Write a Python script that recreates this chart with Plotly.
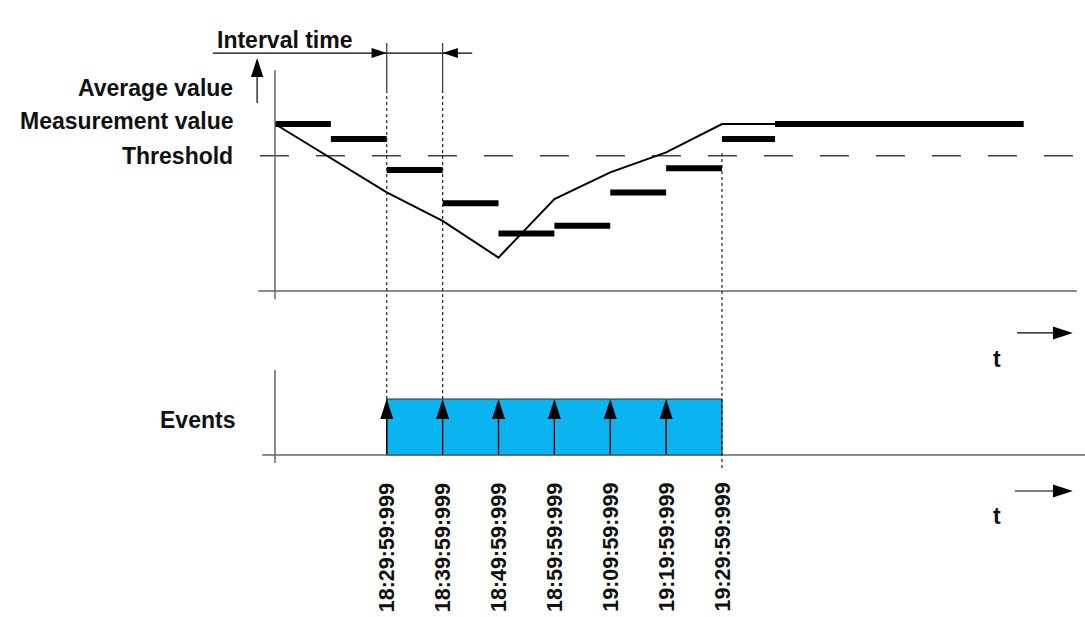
import plotly.graph_objects as go

# x unit: minutes after 18:09:59.999 (origin of both time axes)
meas_x = [0, 20, 30, 40, 50, 60, 70, 80, 89.5]
meas_y = [100, 59, 42, 20, 55, 71, 83, 100, 100]

avg_start = [0, 10, 20, 30, 40, 50, 60, 70, 80, 89.5]
avg_end = [10, 20, 30, 40, 50, 60, 70, 80, 89.5, 134]
avg_value = [100, 91, 72.5, 52.5, 34.5, 39, 59, 73.5, 91, 100]

threshold = 81

event_window = [20, 80]
event_x = [20, 30, 40, 50, 60, 70]
tick_x = [20, 30, 40, 50, 60, 70, 80]
tick_labels = ["18:29:59:999", "18:39:59:999", "18:49:59:999", "18:59:59:999",
               "19:09:59:999", "19:19:59:999", "19:29:59:999"]

W, H = 1085, 617
FONT = "Liberation Sans, Arial, sans-serif"
AXIS = "#666666"


def px(p):
    return p / W


def py(p):
    return 1 - p / H


fig = go.Figure()

# threshold
fig.add_trace(go.Scatter(x=[-2.7, 145], y=[threshold, threshold], mode="lines",
                         line=dict(color="#444444", width=1.3, dash="29px,27px"),
                         hoverinfo="skip"))

# measurement value
fig.add_trace(go.Scatter(x=meas_x, y=meas_y, mode="lines",
                         line=dict(color="black", width=2), hoverinfo="skip"))

# average value bars
bx, by = [], []
for a, b, v in zip(avg_start, avg_end, avg_value):
    bx += [a, b, None]
    by += [v, v, None]
fig.add_trace(go.Scatter(x=bx, y=by, mode="lines",
                         line=dict(color="black", width=6), hoverinfo="skip"))

# event arrows (lower panel, y2)
sx, sy = [], []
for x in event_x:
    sx += [x, x, None]
    sy += [0, 0.65, None]
fig.add_trace(go.Scatter(x=sx, y=sy, yaxis="y2", mode="lines",
                         line=dict(color="black", width=1.3), hoverinfo="skip"))
fig.add_trace(go.Scatter(x=event_x, y=[1] * len(event_x), yaxis="y2", mode="markers",
                         marker=dict(symbol="arrow", angle=0, size=21, color="black",
                                     line=dict(width=0)),
                         hoverinfo="skip"))

# interval time arrow
fig.add_trace(go.Scatter(x=[-11.1, 35.3], y=[142.5, 142.5], mode="lines",
                         line=dict(color="black", width=1.2), hoverinfo="skip"))
fig.add_trace(go.Scatter(x=[event_x[0], event_x[1]], y=[142.5, 142.5], mode="markers",
                         marker=dict(symbol="arrow", angle=[90, -90], size=16, color="black",
                                     line=dict(width=0)),
                         hoverinfo="skip"))

# value-axis arrow
fig.add_trace(go.Scatter(x=[-3.2, -3.2], y=[112.6, 135], mode="lines",
                         line=dict(color="black", width=1.2), hoverinfo="skip"))
fig.add_trace(go.Scatter(x=[-3.2], y=[139.5], mode="markers",
                         marker=dict(symbol="arrow", angle=0, size=20, color="black",
                                     line=dict(width=0)),
                         hoverinfo="skip"))

# time arrows
fig.add_trace(go.Scatter(x=[132.8, 140], y=[-25.1, -25.1], mode="lines",
                         line=dict(color="black", width=1.2), hoverinfo="skip"))
fig.add_trace(go.Scatter(x=[142.8], y=[-25.1], mode="markers",
                         marker=dict(symbol="arrow", angle=90, size=21, color="black",
                                     line=dict(width=0)),
                         hoverinfo="skip"))
fig.add_trace(go.Scatter(x=[132.4, 140], y=[-0.643, -0.643], yaxis="y2", mode="lines",
                         line=dict(color="black", width=1.2), hoverinfo="skip"))
fig.add_trace(go.Scatter(x=[142.8], y=[-0.643], yaxis="y2", mode="markers",
                         marker=dict(symbol="arrow", angle=90, size=21, color="black",
                                     line=dict(width=0)),
                         hoverinfo="skip"))

shapes = [
    # upper axes
    dict(type="line", xref="x", yref="y", x0=0, x1=0, y0=-5, y1=132.3,
         line=dict(color=AXIS, width=1.5)),
    dict(type="line", xref="x", yref="y", x0=-3, x1=143.5, y0=0, y1=0,
         line=dict(color=AXIS, width=1.5)),
    # events box
    dict(type="rect", xref="x", yref="y2", x0=event_window[0], x1=event_window[1],
         y0=0, y1=1, fillcolor="#0AB4F0", line=dict(color="#333333", width=1.2),
         layer="below"),
    # lower axes
    dict(type="line", xref="x", yref="y2", x0=0, x1=0, y0=-0.143, y1=1.518,
         line=dict(color=AXIS, width=1.5)),
    dict(type="line", xref="x", yref="y2", x0=-2.3, x1=146, y0=0, y1=0,
         line=dict(color=AXIS, width=1.5)),
]
# interval boundaries
for x in event_x[:2]:
    shapes.append(dict(type="line", xref="x", yref="paper", x0=x, x1=x,
                       y0=py(92), y1=py(43), line=dict(color="#333333", width=1.2)))
    shapes.append(dict(type="line", xref="x", yref="paper", x0=x, x1=x,
                       y0=py(399), y1=py(92), line=dict(color="#222222", width=1.2, dash="dot")))
shapes.append(dict(type="line", xref="x", yref="paper", x0=event_window[1], x1=event_window[1],
                   y0=py(468), y1=py(153), line=dict(color="#222222", width=1.2, dash="dot")))

lab = dict(family=FONT, size=23, color="#111111", weight="bold")
annotations = [
    dict(text="Interval time", x=px(215), y=py(40), xanchor="left", yanchor="middle"),
    dict(text="Average value", x=px(235), y=py(88), xanchor="right", yanchor="middle"),
    dict(text="Measurement value", x=px(235), y=py(121), xanchor="right", yanchor="middle"),
    dict(text="Threshold", x=px(235), y=py(155.5), xanchor="right", yanchor="middle"),
    dict(text="Events", x=px(237), y=py(420), xanchor="right", yanchor="middle"),
    dict(text="t", x=px(997), y=py(359), xanchor="center", yanchor="middle"),
    dict(text="t", x=px(997), y=py(516), xanchor="center", yanchor="middle"),
]
for a in annotations:
    a.update(xref="paper", yref="paper", showarrow=False, font=lab)
for x, t in zip(tick_x, tick_labels):
    annotations.append(dict(text=t, x=x, xref="x", y=py(481), yref="paper",
                            xanchor="center", yanchor="top", textangle=-90,
                            showarrow=False,
                            font=dict(family=FONT, size=21.5, color="#111111", weight="bold")))

fig.update_layout(
    width=W, height=H, autosize=False,
    margin=dict(l=0, r=0, t=0, b=0, pad=0),
    paper_bgcolor="white", plot_bgcolor="white",
    showlegend=False,
    xaxis=dict(range=[-275 / 5.5875, (W - 275) / 5.5875], visible=False, fixedrange=True),
    yaxis=dict(range=[(291 - H) / 1.67, 291 / 1.67], visible=False, fixedrange=True),
    yaxis2=dict(range=[-(H - 455) / 56, 455 / 56], overlaying="y", visible=False,
                fixedrange=True),
    shapes=shapes,
    annotations=annotations,
)

fig.write_html("out.html", config={"displayModeBar": False},
               post_script="document.body.style.margin='0';document.body.style.overflow='hidden';")
